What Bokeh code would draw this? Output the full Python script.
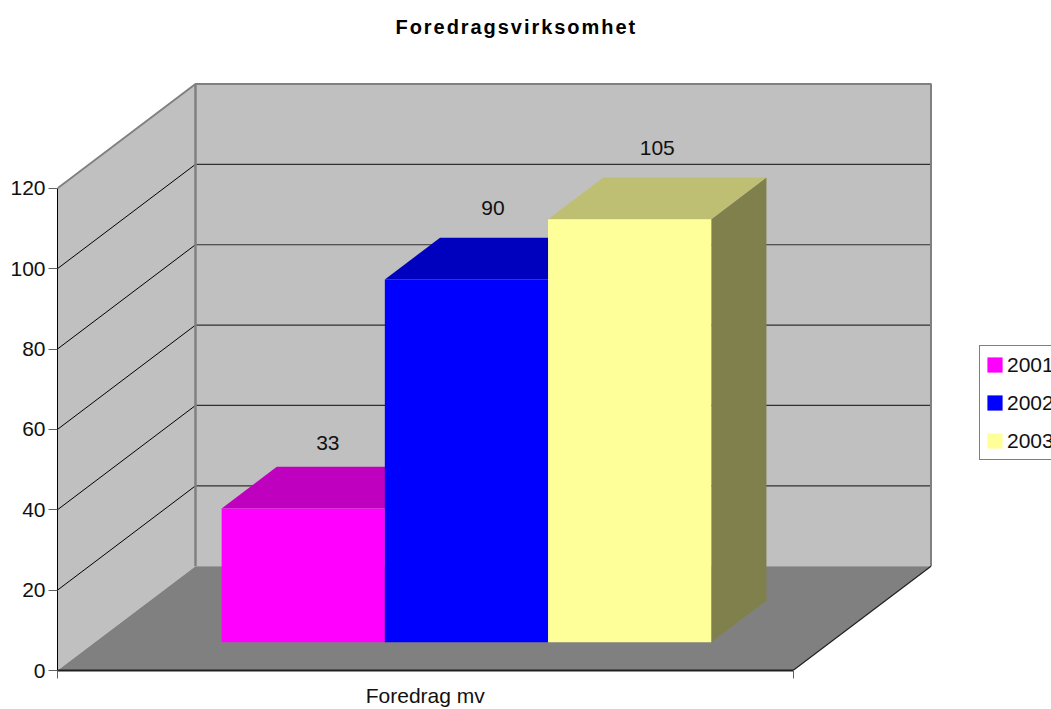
from bokeh.plotting import figure
from bokeh.models import Range1d, LinearAxis, FixedTicker, Legend, LegendItem, Title, Spacer
from bokeh.layouts import column
from bokeh.embed import file_html
from bokeh.resources import INLINE
from bokeh.core.properties import value

title_text = "Foredragsvirksomhet"
category = ["Foredrag mv"]
years = ["2001", "2002", "2003"]
values = [33, 90, 105]
front_colors = ["#FF00FF", "#0000FF", "#FFFF99"]
top_colors = ["#BF00BF", "#0000BF", "#BFBF73"]
side_colors = ["#800080", "#000080", "#80804D"]
y_ticks = [0, 20, 40, 60, 80, 100, 120]
label_lift = [45, 51, 50]
label_nudge = [-3, -1, 0]
FONT = "Liberation Sans"

# depth projection, in data units
DX, DY = 0.1876, 25.95
BAR_D0, BAR_D1 = 0.27, 0.67
BAR_X0, BAR_W = 0.1725, 0.2219
BAR_RAISE = 0.3

W, H_T, H_M = 1051, 29, 669
left, bottom = 57, 38
px = 735.5
py = 4.025
x_end = (W - left) / px
y_end = (H_M - bottom) / py

def P(x, d, v):
    return x + d * DX, v + d * DY

# ---- title strip
t = figure(width=W, height=H_T, output_backend="svg", toolbar_location=None,
           x_range=Range1d(0, 1), y_range=Range1d(0, 1), x_axis_type=None, y_axis_type=None,
           min_border=0, min_border_top=0, min_border_left=0, min_border_right=0, min_border_bottom=0,
           outline_line_color=None, background_fill_color=None, border_fill_color=None)
t.grid.visible = False
t.styles = {"letter-spacing": "1.95px"}
t.add_layout(Title(text=title_text, align="left", offset=338, text_font=FONT, text_font_size="20px",
                   text_font_style="bold", text_color="#000000", standoff=4), "above")

# ---- main chart
p = figure(width=W, height=H_M, output_backend="svg", toolbar_location=None,
           x_range=Range1d(0, x_end), y_range=Range1d(0, y_end), x_axis_type=None, y_axis_type=None,
           min_border_left=left, min_border_right=0, min_border_top=0, min_border_bottom=bottom,
           outline_line_color=None, background_fill_color=None, border_fill_color=None)
p.grid.visible = False

TOP = y_ticks[-1]
# walls and floor
xs, ys = zip(P(0, 0, 0), P(0, 1, 0), P(0, 1, TOP), P(0, 0, TOP))
p.patch(list(xs), list(ys), fill_color="#C0C0C0", line_color=None)
xs, ys = zip(P(0, 1, 0), P(1, 1, 0), P(1, 1, TOP), P(0, 1, TOP))
p.patch(list(xs), list(ys), fill_color="#C0C0C0", line_color=None)
xs, ys = zip(P(0, 0, 0), P(1, 0, 0), P(1, 1, 0), P(0, 1, 0))
p.patch(list(xs), list(ys), fill_color="#808080", line_color=None)

# gridlines
for v in y_ticks[1:-1]:
    a, b, c = P(0, 0, v), P(0, 1, v), P(1, 1, v)
    p.line([a[0], b[0]], [a[1], b[1]], line_color="#000000", line_width=1)
    p.line([b[0], c[0]], [b[1], c[1]], line_color="#303030", line_width=1.2)

# wall edges
a, b, c, d, e = P(0, 0, TOP), P(0, 1, TOP), P(1, 1, TOP), P(1, 1, 0), P(0, 1, 0)
p.line([a[0], b[0], c[0], d[0]], [a[1], b[1], c[1], d[1]], line_color="#808080", line_width=2)
p.line([b[0], e[0]], [b[1], e[1]], line_color="#808080", line_width=2.5)
f = P(1, 0, 0)
p.line([f[0], d[0]], [f[1], d[1]], line_color="#202020", line_width=1.2)

# bars
items = []
for i, (yr, val) in enumerate(zip(years, values)):
    x0 = BAR_X0 + i * BAR_W
    x1 = x0 + BAR_W
    h = val + BAR_RAISE
    pts = [P(x1, BAR_D0, 0), P(x1, BAR_D1, 0), P(x1, BAR_D1, h), P(x1, BAR_D0, h)]
    p.patch([q[0] for q in pts], [q[1] for q in pts], fill_color=side_colors[i], line_color=None)
    pts = [P(x0, BAR_D0, h), P(x1, BAR_D0, h), P(x1, BAR_D1, h), P(x0, BAR_D1, h)]
    p.patch([q[0] for q in pts], [q[1] for q in pts], fill_color=top_colors[i], line_color=None)
    a, b = P(x0, BAR_D0, 0), P(x1, BAR_D0, h)
    r = p.quad(left=[a[0]], right=[b[0]], bottom=[a[1]], top=[b[1]], fill_color=front_colors[i], line_color=None)
    items.append(LegendItem(label=value(yr), renderers=[r]))
    cx, cy = P((x0 + x1) / 2, (BAR_D0 + BAR_D1) / 2, h)
    p.text([cx], [cy], text=[str(val)], text_font=value(FONT), text_font_size="21px", text_color="#111111",
           text_align="center", text_baseline="middle", y_offset=-label_lift[i], x_offset=label_nudge[i])

# axes
yax = LinearAxis(ticker=FixedTicker(ticks=y_ticks), bounds=(0, TOP), axis_line_color="#000000", axis_line_width=1,
                 major_tick_in=0, major_tick_out=9, major_tick_line_color="#606060", minor_tick_line_color=None,
                 major_label_text_font=FONT, major_label_text_font_size="21px", major_label_text_color="#111111",
                 major_label_standoff=3)
p.add_layout(yax, "left")
xax = LinearAxis(ticker=FixedTicker(ticks=[0.5], minor_ticks=[0, 1]), bounds=(0, 1),
                 major_label_overrides={0.5: category[0]}, axis_line_color="#202020", axis_line_width=2,
                 major_tick_line_color=None, major_tick_in=0, major_tick_out=0,
                 minor_tick_in=0, minor_tick_out=8, minor_tick_line_color="#606060",
                 major_label_text_font=FONT, major_label_text_font_size="21px", major_label_text_color="#111111",
                 major_label_standoff=5)
p.add_layout(xax, "below")

# legend
legend = Legend(items=items, location=(979 - left, 210), orientation="vertical",
                label_text_font=FONT, label_text_font_size="21px", label_text_color="#111111",
                glyph_width=19, glyph_height=19, label_standoff=3, padding=5, margin=0, spacing=11,
                border_line_color="#000000", border_line_width=1, background_fill_color="#FFFFFF",
                background_fill_alpha=1, label_height=27)
p.add_layout(legend, "center")

page = column(Spacer(width=W, height=11), t, p, spacing=0)
open("out.html", "w").write(file_html(page, INLINE))
